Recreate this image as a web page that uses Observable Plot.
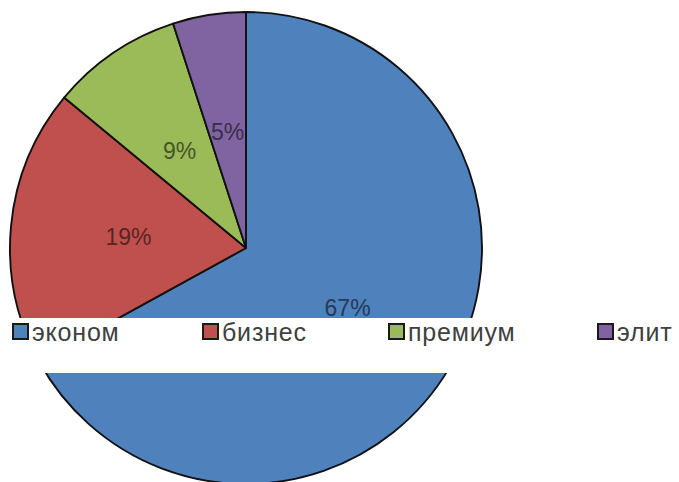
<!DOCTYPE html>
<html>
<head>
<meta charset="utf-8">
<script src="https://cdn.jsdelivr.net/npm/d3@7"></script>
<script src="https://cdn.jsdelivr.net/npm/@observablehq/plot@0.6"></script>
<style>
  html, body { margin: 0; padding: 0; background: #fff; }
  #chart { width: 679px; height: 482px; overflow: hidden; }
</style>
</head>
<body>
<div id="chart"></div>
<script>
// ---- data ----
const categories = ["эконом", "бизнес", "премиум", "элит"];
const shares = [67, 19, 9, 5];
const shareLabels = ["67%", "19%", "9%", "5%"];
const colors = ["#4f81bd", "#c0504d", "#9bbb59", "#8064a2"];

// ---- layout ----
const W = 679, H = 482;
const cx = 246, cy = 248, R = 236;
const band = {y0: 318, y1: 373};
const legendX = [12, 202, 388, 597];
const legendY = 323, sq = 17;

const data = categories.map((c, i) => ({category: c, share: shares[i], label: shareLabels[i]}));

function pieMark(index, scales, values, dims) {
  const color = scales.color ?? d3.scaleOrdinal(categories, colors);
  const svg = d3.create("svg:g");
  const arcs = d3.pie().sort(null).value(d => d.share)(data);
  const arc = d3.arc().innerRadius(0).outerRadius(R);
  const g = svg.append("g").attr("transform", `translate(${cx},${cy})`);
  g.selectAll("path").data(arcs).join("path")
    .attr("d", arc)
    .attr("fill", d => color(d.data.category))
    .attr("stroke", "#111")
    .attr("stroke-width", 1.9)
    .attr("stroke-linejoin", "round");
  g.selectAll("text").data(arcs).join("text")
    .attr("transform", d => `translate(${arc.centroid(d)})`)
    .attr("text-anchor", "middle")
    .attr("dy", "0.36em")
    .attr("font-family", "'Liberation Sans', Arial, sans-serif")
    .attr("font-size", 23)
    .attr("fill", d => d3.color(color(d.data.category)).darker(2.2).formatHex())
    .text(d => d.data.label);
  // legend band overlay
  svg.append("rect")
    .attr("x", 0).attr("y", band.y0)
    .attr("width", W).attr("height", band.y1 - band.y0)
    .attr("fill", "#fff");
  const lg = svg.append("g").selectAll("g").data(categories).join("g")
    .attr("transform", (d, i) => `translate(${legendX[i]},${legendY})`);
  lg.append("rect")
    .attr("x", 1).attr("y", 1).attr("width", sq - 2).attr("height", sq - 2)
    .attr("fill", d => color(d))
    .attr("stroke", "#1a1a1a").attr("stroke-width", 2);
  lg.append("text")
    .attr("x", sq + 3).attr("y", 18)
    .attr("text-anchor", "start")
    .attr("font-family", "'Liberation Sans', Arial, sans-serif")
    .attr("font-size", 25)
    .attr("letter-spacing", 0.8)
    .attr("fill", "#404040")
    .text(d => d);
  return svg.node();
}

const chart = Plot.plot({
  width: W,
  height: H,
  margin: 0,
  x: {domain: [0, W], axis: null},
  y: {domain: [0, H], axis: null},
  color: {domain: categories, range: colors},
  style: {background: "#fff", overflow: "hidden"},
  marks: [pieMark]
});
document.getElementById("chart").append(chart);
</script>
</body>
</html>
